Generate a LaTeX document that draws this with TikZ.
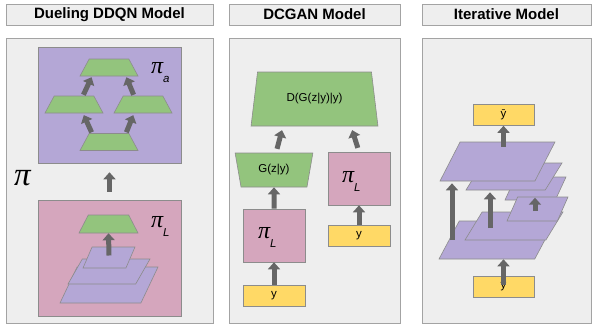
\documentclass[tikz,border=0pt]{standalone}
\usepackage{fontspec}
\setsansfont{Liberation Sans}
\newfontfamily\pifont{Liberation Serif}
\usepackage{amsmath}
\usetikzlibrary{shapes.geometric,arrows.meta,calc}
\definecolor{panelgray}{HTML}{EEEEEE}
\definecolor{edgegray}{HTML}{A3A3A3}
\definecolor{shapeedge}{HTML}{8C8C8C}
\definecolor{layerpurple}{HTML}{B4A7D6}
\definecolor{netpink}{HTML}{D5A6BD}
\definecolor{netgreen}{HTML}{93C47D}
\definecolor{inyellow}{HTML}{FFD966}
\definecolor{arrowgray}{HTML}{666666}
\newcommand{\pilabel}[1]{{\fontsize{24}{24}\selectfont\pifont\itshape π}\raisebox{-9pt}{\fontsize{11.5}{11.5}\selectfont\sffamily\itshape #1}}

\begin{document}
\begin{tikzpicture}[x=1pt,y=-1pt]
	\useasboundingbox (0,0) rectangle (592,324);
	\tikzstyle{title}=[draw=edgegray,fill=panelgray,line width=0.8pt,minimum height=21pt,inner sep=0pt,font=\sffamily\bfseries\fontsize{15}{17}\selectfont]
	\tikzstyle{panel}=[draw=edgegray,fill=panelgray,line width=0.8pt,minimum height=285pt,inner sep=0pt]
	\tikzstyle{box}=[draw=shapeedge,line width=0.6pt,inner sep=0pt,font=\sffamily\fontsize{11.5}{13}\selectfont]
	\tikzstyle{net}=[box,inner sep=2pt,fill=netgreen,trapezium,trapezium stretches=true,trapezium angle=77]
	\tikzstyle{layer}=[box,inner sep=2pt,fill=layerpurple,trapezium,trapezium stretches=true,trapezium left angle=75,trapezium right angle=105]
	\tikzstyle{pibox}=[box,fill=netpink]
	\tikzstyle{inbox}=[box,fill=inyellow,minimum width=62pt,minimum height=21pt]
	\tikzstyle{flow}=[draw=arrowgray,line width=5pt,-{Triangle[width=12pt,length=7pt]}]

	\node[title,minimum width=207pt] (T_1) at (109.5,14.5) {Dueling DDQN Model};
	\node[title,minimum width=171pt] (T_2) at (314.5,14.5) {DCGAN Model};
	\node[title,minimum width=169pt] (T_3) at (506.5,14.5) {Iterative Model};
	\node[panel,minimum width=207pt] (P_1) at (109.5,180.5) {};
	\node[panel,minimum width=171pt] (P_2) at (314.5,180.5) {};
	\node[panel,minimum width=169pt] (P_3) at (506.5,180.5) {};

	% dueling model
	\node[box,fill=layerpurple,minimum width=143pt,minimum height=116pt] (pi_a) at (109.5,105) {};
	\node[pibox,minimum width=143pt,minimum height=116pt] (pi_L) at (109.5,258) {};
	\node[anchor=base west,inner sep=0pt] (pi) at (14,185) {\fontsize{33}{33}\selectfont\pifont\itshape π};
	\draw[flow,shorten <=8pt,shorten >=9pt] (pi_L.north) -- (pi_a.south);

	\node[net,minimum width=58pt,minimum height=17pt] (q_top) at (109,67.5) {};
	\node[net,minimum width=58pt,minimum height=17pt] (q_left) at (74,104.5) {};
	\node[net,minimum width=58pt,minimum height=17pt] (q_right) at (143,104.5) {};
	\node[net,minimum width=58pt,minimum height=17pt] (q_bot) at (109,142) {};
	\draw[flow,shorten <=1pt,shorten >=2pt] ($(q_bot.north)+(-17,0)$) -- ($(q_left.south)+(9,0)$);
	\draw[flow,shorten <=1pt,shorten >=2pt] ($(q_bot.north)+(17,0)$) -- ($(q_right.south)+(-9,0)$);
	\draw[flow,shorten <=1pt,shorten >=1pt] ($(q_left.north)+(9,0)$) -- ($(q_top.south)+(-17,0)$);
	\draw[flow,shorten <=1pt,shorten >=1pt] ($(q_right.north)+(-9,0)$) -- ($(q_top.south)+(17,0)$);
	\node[anchor=base west,inner sep=0pt] (lab_a) at (151,73) {\pilabel{a}};

	\node[layer,minimum width=98pt,minimum height=36pt] (l_3) at (109,285) {};
	\node[layer,minimum width=82pt,minimum height=25pt] (l_2) at (109,271.5) {};
	\node[layer,minimum width=52pt,minimum height=21pt] (l_1) at (109,257.5) {};
	\node[net,minimum width=59pt,minimum height=18pt] (g_L) at (108.5,224) {};
	\draw[flow] ($(l_1.center)+(0,-2)$) -- (g_L.south);
	\node[anchor=base west,inner sep=0pt] (lab_L) at (151,227) {\pilabel{L}};

	% dcgan model
	\node[net,minimum width=127pt,minimum height=54pt] (D) at (314.5,99) {D(G(z|y)|y)};
	\node[net,trapezium angle=102,minimum width=78pt,minimum height=34pt] (G) at (274,170) {G(z|y)};
	\node[pibox,minimum width=62pt,minimum height=53pt] (pi_L1) at (274,235.5) {};
	\node[pibox,minimum width=62pt,minimum height=53pt] (pi_L2) at (359,178.5) {};
	\node[inbox] (y_1) at (274,295.5) {y};
	\node[inbox] (y_2) at (359,236) {y};
	\node[anchor=base west,inner sep=0pt] (lab_L1) at (258,238) {\pilabel{L}};
	\node[anchor=base west,inner sep=0pt] (lab_L2) at (342,182) {\pilabel{L}};
	\draw[flow] (y_1) -- (pi_L1);
	\draw[flow] (pi_L1) -- (G);
	\draw[flow] (y_2) -- (pi_L2);
	\draw[flow,shorten <=4pt,shorten >=4pt] ($(G.north)+(2,0)$) -- ($(D.south)+(-31.5,0)$);
	\draw[flow,shorten <=4pt,shorten >=4pt] (pi_L2.north) -- ($(D.south)+(36.5,0)$);

	% iterative model
	\node[inbox,minimum width=61pt] (y_hat) at (503.5,115) {\=y};
	\node[inbox,minimum width=61pt] (y_in) at (503.5,286.5) {y};
	\node[layer,minimum width=116pt,minimum height=38pt] (it_6) at (497,240) {};
	\node[layer,minimum width=98pt,minimum height=28pt] (it_5) at (514,226) {};
	\node[layer,minimum width=61pt,minimum height=23pt] (it_3) at (535.5,188.5) {};
	\node[layer,minimum width=61pt,minimum height=24pt] (it_4) at (537.5,209) {};
	\node[layer,minimum width=96pt,minimum height=27pt] (it_2) at (514,176.5) {};
	\node[layer,minimum width=115pt,minimum height=39pt] (it_1) at (497.5,161.5) {};
	\draw[flow] ($(y_in.center)+(0,-2)$) -- (y_in.center |- it_6.south);
	\draw[flow] ($(it_1.north -| y_hat.south)+(0,5)$) -- (y_hat.south);
	\draw[flow] (452,240) -- ($(it_1.south -| 452,0)+(0,2)$);
	\draw[flow] (490,228) -- ($(it_2.south -| 490,0)+(0,2)$);
	\draw[flow] (535,211) -- ($(it_4.north -| 535,0)+(0,1)$);
\end{tikzpicture}
\end{document}
